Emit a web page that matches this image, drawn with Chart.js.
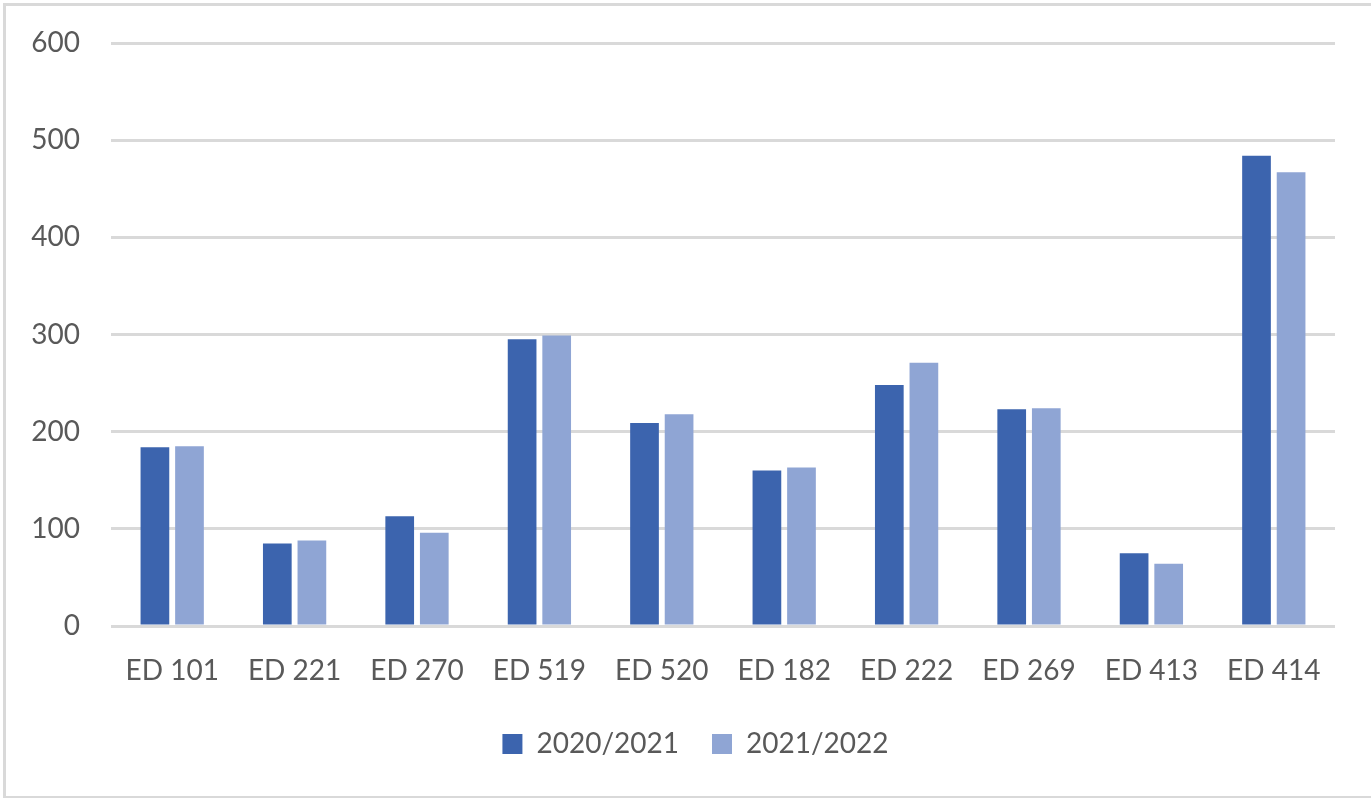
<!DOCTYPE html>
<html>
<head>
<meta charset="UTF-8">
<title>ED chart</title>
<script src="https://cdn.jsdelivr.net/npm/chart.js"></script>
<style>
    body { margin: 0; background: #fff; overflow: hidden; }
    .frame {
        position: absolute; left: 3px; top: 3px;
        width: 1400px; height: 790px;
        border: 3px solid #d9d9d9;
    }
    #chart { position: absolute; left: 0; top: 0; }
</style>
</head>
<body>
<div class="frame"></div>
<canvas id="chart" width="1371" height="798"></canvas>
<script>
const categories = ['ED 101', 'ED 221', 'ED 270', 'ED 519', 'ED 520', 'ED 182', 'ED 222', 'ED 269', 'ED 413', 'ED 414'];
const series2021 = [184, 85, 113, 295, 209, 160, 248, 223, 75, 484];
const series2022 = [185, 88, 96, 299, 218, 163, 271, 224, 64, 467];
const yTicks = [0, 100, 200, 300, 400, 500, 600];

const textColor = '#595959';
const fontFamily = 'Lato, "Open Sans", sans-serif';

// nudge the bottom legend so it is centred like the original
const legendShift = {
    id: 'legendShift',
    afterLayout(chart) {
        chart.legend.left += 28;
        chart.legend.right += 28;
    }
};

new Chart(document.getElementById('chart'), {
    type: 'bar',
    data: {
        labels: categories,
        datasets: [
            { label: '2020/2021', data: series2021, backgroundColor: '#3c64ae' },
            { label: '2021/2022', data: series2022, backgroundColor: '#8fa5d4' }
        ]
    },
    options: {
        responsive: false,
        animation: false,
        datasets: { bar: { categoryPercentage: 0.565, barPercentage: 0.83 } },
        layout: { padding: { top: 43, right: 36, left: 0, bottom: 30 } },
        plugins: {
            tooltip: { enabled: false },
            legend: {
                position: 'bottom',
                labels: {
                    color: textColor,
                    font: { family: fontFamily, size: 28 },
                    boxWidth: 20, boxHeight: 20,
                    padding: 33
                }
            }
        },
        scales: {
            x: {
                afterFit: s => { s.height = 71; },
                grid: { display: false },
                border: { display: false },
                ticks: { color: textColor, font: { family: fontFamily, size: 28 }, padding: 20, maxRotation: 0 }
            },
            y: {
                min: 0, max: 600,
                afterFit: s => { s.width = 111; },
                afterBuildTicks: s => { s.ticks = yTicks.map(v => ({ value: v })); },
                // invisible tick marks give the label gap without padding the top
                grid: { color: '#d9d9d9', lineWidth: 3, drawTicks: true, tickLength: 31, tickColor: 'rgba(0,0,0,0)' },
                border: { display: false },
                ticks: { color: textColor, font: { family: fontFamily, size: 28 }, padding: 0 }
            }
        }
    },
    plugins: [legendShift]
});
</script>
</body>
</html>
